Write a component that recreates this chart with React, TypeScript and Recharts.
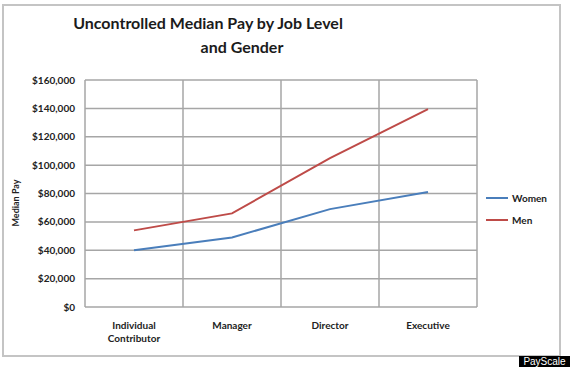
import React from "react";
import { LineChart, Line, XAxis, YAxis, CartesianGrid } from "recharts";

const categories = ["Individual Contributor", "Manager", "Director", "Executive"];
const women = [40000, 49000, 69000, 81000];
const men = [54000, 66000, 105000, 139500];
const yTicks = [0, 20000, 40000, 60000, 80000, 100000, 120000, 140000, 160000];
const seriesNames = ["Women", "Men"];
const seriesColors = ["#4a7ebb", "#be4b48"];

const data = categories.map((c, i) => ({ x: i + 0.5, name: c, Women: women[i], Men: men[i] }));
const catTicks = categories.map((_, i) => i + 0.5);
const gridTicks = [0, ...categories.map((_, i) => i + 1)];

const FONT = "Lato, 'Open Sans', sans-serif";

const fmtMoney = (v: number) => "$" + v.toLocaleString("en-US");

const XTick = (props: any) => {
  const { x, y, payload } = props;
  const idx = Math.round(payload.value - 0.5);
  const label = categories[idx] ?? "";
  const words = label.split(" ");
  return (
    <text x={x} y={y} textAnchor="middle" fontFamily={FONT} fontWeight={700} fontSize={10} fill="#222">
      {words.map((w, i) => (
        <tspan key={i} x={x} dy={i === 0 ? 14 : 13}>{w}</tspan>
      ))}
    </text>
  );
};

export default function App() {
  return (
    <div style={{ position: "absolute", left: 0, top: 0, width: 570, height: 367, background: "#fff", overflow: "hidden" }}>
      <div style={{ position: "absolute", left: 2, top: 4, width: 555, height: 349, border: "2px solid #c4c4c4" }} />
      <div style={{ position: "absolute", left: 0, width: 416, top: 13, textAlign: "center", fontFamily: FONT, fontWeight: 700, fontSize: 16, color: "#1b1b1b" }}>
        Uncontrolled Median Pay by Job Level
      </div>
      <div style={{ position: "absolute", left: 0, width: 484, top: 37, textAlign: "center", fontFamily: FONT, fontWeight: 700, fontSize: 16, color: "#1b1b1b" }}>
        and Gender
      </div>
      <div style={{ position: "absolute", left: 15, top: 203, width: 0, height: 0 }}>
        <div style={{ position: "absolute", transform: "translate(-50%, -50%) rotate(-90deg)", whiteSpace: "nowrap", fontFamily: FONT, fontWeight: 700, fontSize: 9, color: "#222" }}>
          Median Pay
        </div>
      </div>
      <div style={{ position: "absolute", left: 0, top: 0 }}>
        <LineChart width={570} height={367} data={data} margin={{ top: 80, right: 93, bottom: 0, left: 0 }}>
          <CartesianGrid xAxisId="grid" stroke="#a6a6a6" strokeWidth={1.5} />
          <XAxis xAxisId="grid" orientation="top" height={0} type="number" dataKey="x" domain={[0, 4]} ticks={gridTicks} hide />
          <XAxis
            xAxisId="main"
            type="number"
            dataKey="x"
            domain={[0, 4]}
            ticks={catTicks}
            interval={0}
            axisLine={false}
            tickLine={false}
            tick={<XTick />}
            height={60}
          />
          <YAxis
            type="number"
            domain={[0, 160000]}
            ticks={yTicks}
            width={85}
            axisLine={false}
            tickLine={false}
            tickSize={0}
            tickMargin={10}
            tickFormatter={fmtMoney}
            tick={{ fontFamily: FONT, fontWeight: 700, fontSize: 10, fill: "#222" }}
          />
          <Line xAxisId="main" type="linear" dataKey="Women" stroke={seriesColors[0]} strokeWidth={2} dot={false} isAnimationActive={false} />
          <Line xAxisId="main" type="linear" dataKey="Men" stroke={seriesColors[1]} strokeWidth={2} dot={false} isAnimationActive={false} />
        </LineChart>
      </div>
      <div style={{ position: "absolute", left: 486, top: 187 }}>
        {seriesNames.map((n, i) => (
          <div key={n} style={{ display: "flex", alignItems: "center", height: 22 }}>
            <div style={{ width: 22, height: 2, background: seriesColors[i], marginRight: 4 }} />
            <span style={{ fontFamily: FONT, fontWeight: 700, fontSize: 10, color: "#222" }}>{n}</span>
          </div>
        ))}
      </div>
      <div style={{ position: "absolute", left: 519, top: 356, width: 51, height: 11, background: "#000", color: "#fff", fontFamily: "'Liberation Sans', Arial, sans-serif", fontSize: 10, lineHeight: "11px", textAlign: "center" }}>
        PayScale
      </div>
    </div>
  );
}
